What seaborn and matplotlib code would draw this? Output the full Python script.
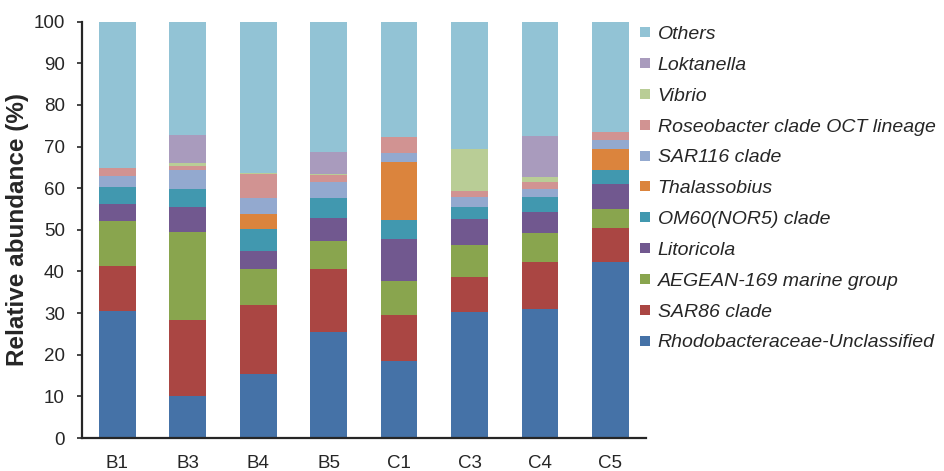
import numpy as np
import pandas as pd
import matplotlib
matplotlib.use("Agg")
import matplotlib.pyplot as plt
from matplotlib.lines import Line2D
import seaborn as sns

samples = ["B1", "B3", "B4", "B5", "C1", "C3", "C4", "C5"]

# taxa from the bottom of the stack to the top
taxa = [
    "Rhodobacteraceae-Unclassified",
    "SAR86 clade",
    "AEGEAN-169 marine group",
    "Litoricola",
    "OM60(NOR5) clade",
    "Thalassobius",
    "SAR116 clade",
    "Roseobacter clade OCT lineage",
    "Vibrio",
    "Loktanella",
    "Others",
]

rhodobacteraceae = [30.4, 10.0, 15.4, 25.4, 18.4, 30.2, 31.0, 42.2]
sar86 = [10.8, 18.4, 16.5, 15.2, 11.2, 8.4, 11.3, 8.2]
aegean169 = [11.0, 21.2, 8.8, 6.8, 8.2, 7.7, 6.9, 4.6]
litoricola = [4.0, 5.8, 4.1, 5.4, 10.1, 6.4, 5.2, 6.1]
om60 = [4.2, 4.4, 5.4, 4.9, 4.5, 2.9, 3.5, 3.3]
thalassobius = [0.0, 0.0, 3.6, 0.0, 14.0, 0.0, 0.0, 5.1]
sar116 = [2.6, 4.6, 3.9, 3.8, 2.0, 2.2, 2.0, 2.1]
roseobacter = [1.9, 1.0, 5.7, 1.6, 4.0, 1.6, 1.7, 1.8]
vibrio = [0.0, 0.6, 0.3, 0.3, 0.0, 10.0, 1.0, 0.2]
loktanella = [0.0, 6.8, 0.0, 5.2, 0.0, 0.0, 10.0, 0.0]
others = [35.1, 27.2, 36.3, 31.4, 27.6, 30.6, 27.4, 26.4]

colors = ["#4572A7", "#AA4643", "#89A54E", "#71588F", "#4198AF", "#DB843D",
          "#93A9CF", "#D19392", "#B9CD96", "#A99BBD", "#92C3D5"]

series = [rhodobacteraceae, sar86, aegean169, litoricola, om60, thalassobius,
          sar116, roseobacter, vibrio, loktanella, others]

sns.set_style("ticks")
plt.rcParams["font.family"] = ["Liberation Sans", "DejaVu Sans"]

fig = plt.figure(figsize=(9.44, 4.71), dpi=100)
ax = fig.add_axes([0.087, 0.07, 0.597, 0.884])

bottom = np.zeros(len(samples))
for name, vals, col in zip(taxa, series, colors):
    df = pd.DataFrame({"sample": samples, "value": vals})
    sns.barplot(data=df, x="sample", y="value", order=samples, color=col,
                bottom=bottom.copy(), width=0.52, saturation=1, ax=ax,
                linewidth=0, errorbar=None)
    bottom += np.array(vals)

ax.set_xlim(-0.5, len(samples) - 0.5)
ax.set_ylim(0, 100)
ax.set_yticks(range(0, 101, 10))
ax.set_xlabel("")
ax.set_ylabel("Relative abundance (%)", fontsize=17.5, fontweight="bold", labelpad=3)
ax.tick_params(axis="y", labelsize=13.5, length=3.5, width=1.2, direction="out", pad=9)
ax.tick_params(axis="x", labelsize=13.5, length=0, pad=12)
sns.despine(ax=ax)
ax.spines["left"].set_linewidth(1.6)
ax.spines["bottom"].set_linewidth(1.6)

handles = [Line2D([], [], marker="s", linestyle="", markersize=7,
                  markerfacecolor=c, markeredgewidth=0) for c in colors[::-1]]
leg = fig.legend(handles, taxa[::-1], loc="upper left",
                 bbox_to_anchor=(0.676, 0.946), frameon=False,
                 prop={"style": "italic", "size": 14},
                 handlelength=0.7, handletextpad=0.3, labelspacing=0.68,
                 borderaxespad=0, borderpad=0)

fig.savefig("out.png", dpi=100)
